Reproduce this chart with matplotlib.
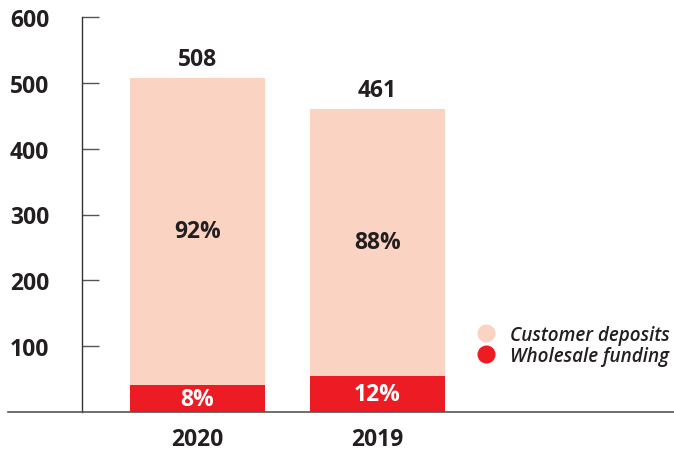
import matplotlib
matplotlib.use("Agg")
import matplotlib.pyplot as plt
from matplotlib.lines import Line2D

plt.rcParams['font.family'] = ['Open Sans', 'DejaVu Sans']

years = ['2020', '2019']
totals = [508, 461]
deposit_pct = [92, 88]
wholesale_pct = [8, 12]
series_names = ['Customer deposits', 'Wholesale funding']
y_ticks = [100, 200, 300, 400, 500, 600]

PEACH = '#FBD3C2'
RED = '#ED1C24'
INK = '#231F20'
FS = 16.5

wholesale = [t * p / 100 for t, p in zip(totals, wholesale_pct)]
deposits = [t - w for t, w in zip(totals, wholesale)]

fig = plt.figure(figsize=(6.74, 4.52), dpi=100)
ax = fig.add_axes([82 / 674, 39 / 452, (674 - 82) / 674, 395 / 452])

x = list(range(len(years)))
bw = 0.75
ax.bar(x, wholesale, width=bw, color=RED, linewidth=0)
ax.bar(x, deposits, width=bw, bottom=wholesale, color=PEACH, linewidth=0)

for i in x:
    ax.text(i, totals[i] + 28, f'{totals[i]}', ha='center', va='center',
            fontsize=FS, fontweight='bold', color=INK)
    ax.text(i, wholesale[i] + deposits[i] / 2, f'{deposit_pct[i]}%', ha='center',
            va='center', fontsize=FS, fontweight='bold', color=INK)
    ax.text(i, wholesale[i] / 2, f'{wholesale_pct[i]}%', ha='center', va='center',
            fontsize=FS, fontweight='bold', color='white')

ax.set_ylim(0, 600)
ax.set_xlim(-0.642, 2.647)
ax.set_yticks(y_ticks)
ax.set_yticklabels([str(t) for t in y_ticks], fontsize=FS, fontweight='bold',
                   color=INK, ha='left')
ax.tick_params(axis='y', direction='in', length=12, width=1, color='#555555', pad=52)
ax.set_xticks(x)
ax.set_xticklabels(years, fontsize=FS, fontweight='bold', color=INK)
ax.tick_params(axis='x', length=0, pad=11)

for side in ['top', 'right', 'bottom']:
    ax.spines[side].set_visible(False)
ax.spines['left'].set_color('#333333')
ax.spines['left'].set_linewidth(1)

# baseline runs past the axis on both sides
fig.add_artist(Line2D([8 / 674, 1], [39 / 452, 39 / 452], color='#555555', lw=1.2))

handles = [Line2D([], [], marker='o', ls='', markersize=13, color=c, markeredgewidth=0)
           for c in (PEACH, RED)]
leg = ax.legend(handles, series_names, loc='upper left', bbox_to_anchor=(450 / 674, 1 - 309 / 452),
                bbox_transform=fig.transFigure, frameon=False, handletextpad=0.3,
                labelspacing=0.05, prop={'size': 13.6, 'style': 'italic', 'weight': 'semibold'})
for t in leg.get_texts():
    t.set_color(INK)

fig.savefig('out.png', dpi=100)
